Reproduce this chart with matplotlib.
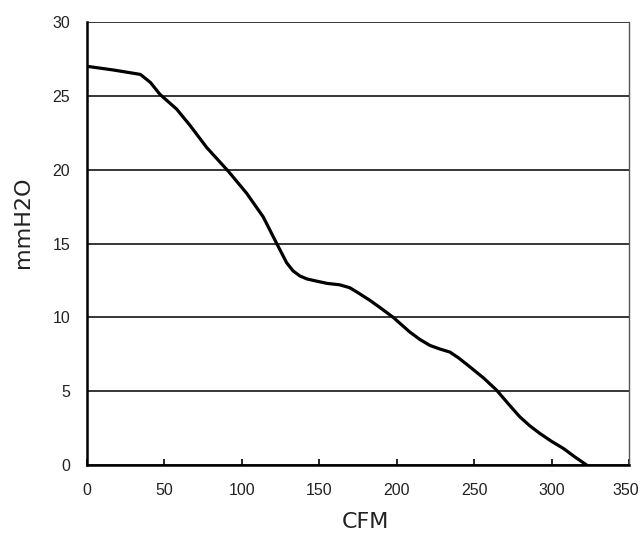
import matplotlib
matplotlib.use("Agg")
from matplotlib import pyplot as plt
from matplotlib.transforms import ScaledTranslation

# fan curve
cfm = [0, 17, 34.5, 41, 47.1, 57.9, 66.5, 77.3, 91.2, 103.1, 113.8, 122.5, 128.9,
       133, 137.5, 142, 148.3, 155, 163.3, 169.8, 176, 182.7, 190, 197.7, 208.5,
       215, 221.4, 228, 234.3, 240, 247.2, 256, 264.5, 272, 279.5, 286, 292.4,
       300, 307.5, 315, 322.6]
pressure = [27.0, 26.75, 26.45, 25.9, 25.1, 24.1, 23.0, 21.5, 19.9, 18.4, 16.8,
            15.0, 13.7, 13.15, 12.8, 12.6, 12.45, 12.3, 12.2, 12.0, 11.6, 11.15,
            10.6, 10.0, 9.0, 8.5, 8.1, 7.85, 7.65, 7.25, 6.65, 5.9, 5.07, 4.15,
            3.26, 2.65, 2.14, 1.6, 1.13, 0.55, 0]
xticks = [0, 50, 100, 150, 200, 250, 300, 350]
yticks = [0, 5, 10, 15, 20, 25, 30]

fig = plt.figure(figsize=(6.41, 5.33), dpi=100)
ax = fig.add_axes([87 / 641, 68 / 533, 542 / 641, 443 / 533])

ax.plot(cfm, pressure, color="black", lw=2.3, solid_joinstyle="round",
        solid_capstyle="round", zorder=3)

ax.set_xlim(0, 350)
ax.set_ylim(0, 30)
ax.set_xticks(xticks)
ax.set_yticks(yticks)
ax.yaxis.grid(True, color="black", lw=1.1)
ax.set_axisbelow(True)

for side in ["left", "bottom"]:
    ax.spines[side].set_linewidth(1.8)
ax.spines["right"].set_linewidth(1.0)
ax.spines["right"].set_color("#555555")
ax.spines["top"].set_visible(False)

ax.tick_params(axis="x", direction="in", length=4.5, width=1.2, pad=13,
               labelsize=11.5, labelcolor="#222222")
ax.tick_params(axis="y", direction="in", length=0, pad=12,
               labelsize=11.5, labelcolor="#222222")
for lab in ax.get_xticklabels() + ax.get_yticklabels():
    lab.set_family("Liberation Sans")

# keep the last x label inside the picture
last = ax.get_xticklabels()[-1]
last.set_transform(last.get_transform() + ScaledTranslation(-3 / 100, 0, fig.dpi_scale_trans))

ax.set_xlabel("CFM", fontsize=16, color="#222222")
ax.set_ylabel("mmH2O", fontsize=16, color="#222222")
ax.xaxis.set_label_coords(0.513, -0.106)
ax.yaxis.set_label_coords(-0.10, 0.549)

fig.savefig("out.png", dpi=100)
